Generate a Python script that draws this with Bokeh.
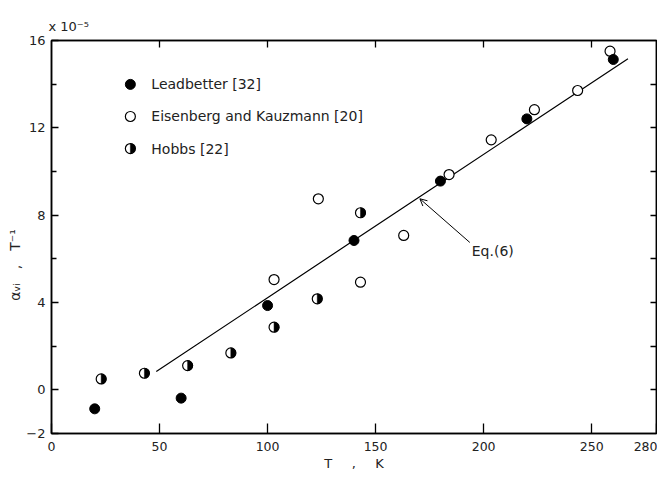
import math
from bokeh.plotting import figure
from bokeh.models import Range1d, LinearAxis, FixedTicker, Arrow, OpenHead, ColumnDataSource, Title, Label
from bokeh.core.properties import value
from bokeh.embed import file_html
from bokeh.resources import INLINE

# ---------------- data (alpha in units of 1e-5 per K) ----------------
leadbetter_T = [20, 60, 100, 140, 180, 220, 260]
leadbetter_a = [-0.87, -0.38, 3.86, 6.84, 9.56, 12.41, 15.13]

eisenberg_T = [103, 123.5, 143, 163, 184, 203.5, 223.5, 243.5, 258.5]
eisenberg_a = [5.05, 8.75, 4.93, 7.07, 9.86, 11.45, 12.83, 13.71, 15.51]

hobbs_T = [23, 43, 63, 83, 103, 123, 143]
hobbs_a = [0.50, 0.76, 1.11, 1.69, 2.87, 4.17, 8.11]

eq6_T = [48.5, 100, 140, 180, 220, 266.8]
eq6_a = [0.84, 4.22, 6.85, 9.47, 12.10, 15.16]

series_names = ["Leadbetter [32]", "Eisenberg and Kauzmann [20]", "Hobbs [22]"]

x_ticks = [0, 50, 100, 150, 200, 250, 280]
x_inner_ticks = [50, 100, 150, 200, 250]
y_major = [-2, 0, 4, 8, 12, 16]
y_minor = [2, 6, 10, 14]
y_right = [0, 2, 4, 6, 8, 10, 12, 14]

# ---------------- layout constants ----------------
FONT = "DejaVu Sans"
TXT = "#222222"
MS = 10  # marker diameter (px)
EM = "\u2003"

p = figure(width=657, height=473, x_range=Range1d(0, 280), y_range=Range1d(-2, 16),
           x_axis_type=None, y_axis_type=None,
           output_backend="svg", toolbar_location=None,
           min_border_left=51, min_border_right=1, min_border_top=40, min_border_bottom=40)
p.outline_line_color = "black"
p.outline_line_width = 1.5
p.background_fill_color = "white"
p.border_fill_color = "white"

def style_axis(ax, tick_in, minor_in=0):
    ax.axis_line_color = "black"
    ax.axis_line_width = 1.5
    ax.major_tick_in = tick_in
    ax.major_tick_out = 0
    ax.major_tick_line_width = 1.3
    ax.minor_tick_in = minor_in
    ax.minor_tick_out = 0
    ax.minor_tick_line_width = 1.3
    ax.major_label_text_font = FONT
    ax.major_label_text_color = TXT
    ax.axis_label_text_font = FONT
    ax.axis_label_text_font_style = "normal"
    ax.axis_label_text_color = TXT

bottom = LinearAxis(ticker=FixedTicker(ticks=x_ticks))
style_axis(bottom, 10)
bottom.major_label_text_font_size = "12.5px"
bottom.major_label_standoff = 8
bottom.axis_label = "T" + EM + "\u2002," + EM + "\u2002K"
bottom.axis_label_text_font_size = "13px"
bottom.axis_label_standoff = 2
p.add_layout(bottom, "below")

# top and right frames: tick marks only (minor ticks carry no labels)
top = LinearAxis(ticker=FixedTicker(ticks=[], minor_ticks=x_inner_ticks))
style_axis(top, 0, minor_in=7)
p.add_layout(top, "above")

right = LinearAxis(ticker=FixedTicker(ticks=[], minor_ticks=y_right))
style_axis(right, 0, minor_in=6)
p.add_layout(right, "right")

left = LinearAxis(ticker=FixedTicker(ticks=y_major, minor_ticks=y_minor))
style_axis(left, 7, minor_in=5)
left.major_label_text_font_size = "13px"
left.major_label_standoff = 6
left.axis_label = "\u03b1\u1d65\u1d62" + EM + "," + EM + "T\u207b\u00b9" + EM * 4
left.axis_label_text_font_size = "14px"
left.axis_label_standoff = 0
p.add_layout(left, "left")

p.add_layout(Title(text="x 10\u207b\u2075", align="left", offset=-3, text_font=FONT,
                   text_font_size="13px", text_font_style="normal", text_color=TXT,
                   standoff=14), "above")

# ---------------- Eq.(6) line ----------------
p.line(eq6_T, eq6_a, line_color="black", line_width=1.2)

# ---------------- data points ----------------
src_e = ColumnDataSource(dict(x=eisenberg_T, y=eisenberg_a))
src_h = ColumnDataSource(dict(x=hobbs_T, y=hobbs_a))
src_l = ColumnDataSource(dict(x=leadbetter_T, y=leadbetter_a))

p.scatter("x", "y", source=src_e, marker="circle", size=MS, fill_color="white",
          line_color="black", line_width=1.2)
p.scatter("x", "y", source=src_h, marker="circle", size=MS, fill_color="white",
          line_color="black", line_width=1.2)
p.wedge("x", "y", source=src_h, radius=MS / 2, radius_units="screen",
        start_angle=-math.pi / 2, end_angle=math.pi / 2,
        fill_color="black", line_color="black", line_width=0.5)
p.scatter("x", "y", source=src_l, marker="circle", size=MS, fill_color="black",
          line_color="black", line_width=1)

# ---------------- legend (manual) ----------------
LEG_X = 36.5
LEG_TX = 46.2
LEG_Y = [13.99, 12.52, 11.05]

p.scatter([LEG_X], [LEG_Y[0]], marker="circle", size=MS, fill_color="black", line_color="black")
p.scatter([LEG_X], [LEG_Y[1]], marker="circle", size=MS, fill_color="white",
          line_color="black", line_width=1.2)
p.scatter([LEG_X], [LEG_Y[2]], marker="circle", size=MS, fill_color="white",
          line_color="black", line_width=1.2)
p.wedge([LEG_X], [LEG_Y[2]], radius=MS / 2, radius_units="screen",
        start_angle=-math.pi / 2, end_angle=math.pi / 2,
        fill_color="black", line_color="black", line_width=0.5)
p.text([LEG_TX] * 3, LEG_Y, text=series_names, text_font=value(FONT),
       text_font_size="14px", text_baseline="middle", text_align="left", text_color=TXT)

# ---------------- annotations ----------------
p.add_layout(Arrow(end=OpenHead(size=7, line_width=1, line_color="black"),
                   x_start=193.6, y_start=6.75, x_end=170.5, y_end=8.75,
                   line_color="black", line_width=1))
p.add_layout(Label(x=194.5, y=6.34, text="Eq.(6)", text_font=FONT, text_font_size="14px",
                   text_baseline="middle", text_align="left", text_color=TXT))

open("out.html", "w").write(file_html(p, INLINE))
